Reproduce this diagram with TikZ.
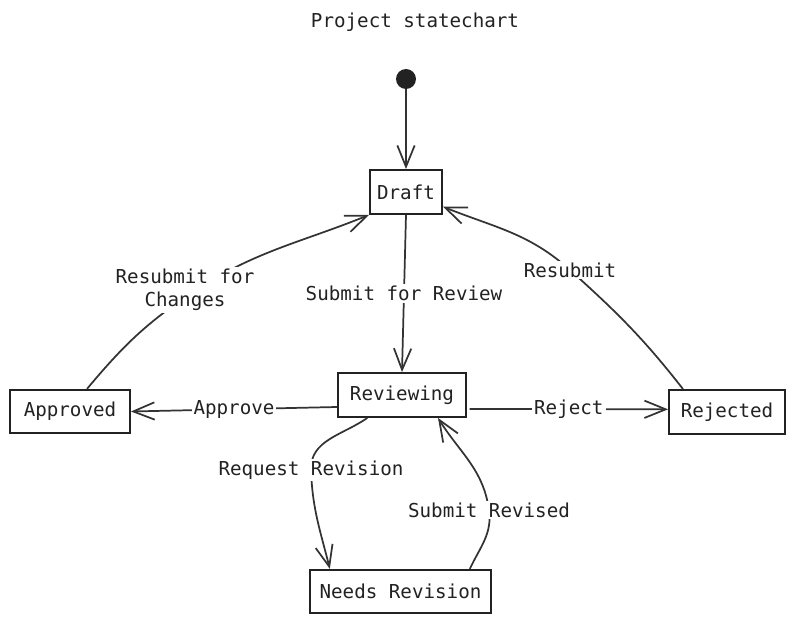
\documentclass[tikz,border=0pt]{standalone}
\usepackage{fontspec}
\setmonofont{DejaVu Sans Mono}
\usetikzlibrary{arrows.meta}
\definecolor{ink}{HTML}{222222}
\definecolor{edgec}{HTML}{333333}
\tikzset{
  state/.style={draw=ink, line width=1.4pt, fill=white, inner sep=0pt, text=ink},
  edge/.style={draw=edgec, line width=1.3pt, -{Straight Barb[length=16pt,width=13pt,line width=1.3pt]}},
  lbl/.style={fill=white, inner sep=1.5pt, text=ink, align=center},
}
\begin{document}
\begin{tikzpicture}[x=0.75pt,y=0.75pt,font=\ttfamily\fontsize{14.4pt}{17.5pt}\selectfont]
\useasboundingbox (0,0) rectangle (794,-624);
\node[text=ink] (title) at (415,-22) {Project statechart};
\node[circle, fill=ink, minimum size=15pt, inner sep=0pt] (init) at (406,-79) {};
\node[state, minimum width=54pt, minimum height=33pt] (Draft) at (406,-192) {Draft};
\node[state, minimum width=96pt, minimum height=33pt] (Reviewing) at (402,-395) {Reviewing};
\node[state, minimum width=90pt, minimum height=32.5pt] (Approved) at (70,-411.5) {Approved};
\node[state, minimum width=87pt, minimum height=33pt] (Rejected) at (727,-412) {Rejected};
\node[state, minimum width=135.75pt, minimum height=32.5pt] (Needs) at (400.5,-591.5) {Needs Revision};

\coordinate (c5) at (311,-470);
\coordinate (c6) at (489,-510);
\coordinate (c7) at (190,-294);
\coordinate (c8) at (570,-270);

\draw[edge] (init) -- (Draft);
\draw[edge] (Draft.south) -- node[lbl] (l2) {Submit for Review} (Reviewing.north);
\draw[edge] ([yshift=-9pt]Reviewing.west) -- node[lbl] (l3) {Approve} (Approved.east);
\draw[edge] ([yshift=-10.5pt,xshift=2pt]Reviewing.east) -- node[lbl] (l4) {Reject} ([yshift=2pt]Rejected.west);
\draw[edge] ([xshift=-26pt]Reviewing.south) to[out=215,in=92] (c5) to[out=-88,in=104] ([xshift=-53pt]Needs.north);
\draw[edge] ([xshift=52pt]Needs.north) to[out=65,in=-82] (c6) to[out=98,in=-58] ([xshift=27pt]Reviewing.south);
\draw[edge] ([xshift=12.75pt]Approved.north) to[out=50,in=214] (c7) to[out=34,in=202] (Draft.south west);
\draw[edge] ([xshift=-33pt]Rejected.north) to[out=128,in=-42] (c8) to[out=138,in=-22] ([yshift=-11pt]Draft.east);

\node[lbl] (l5) at (c5) {Request Revision};
\node[lbl] (l6) at (c6) {Submit Revised};
\node[lbl] (l7) at (185,-290) {Resubmit for\\Changes};
\node[lbl] (l8) at (c8) {Resubmit};
\end{tikzpicture}
\end{document}
